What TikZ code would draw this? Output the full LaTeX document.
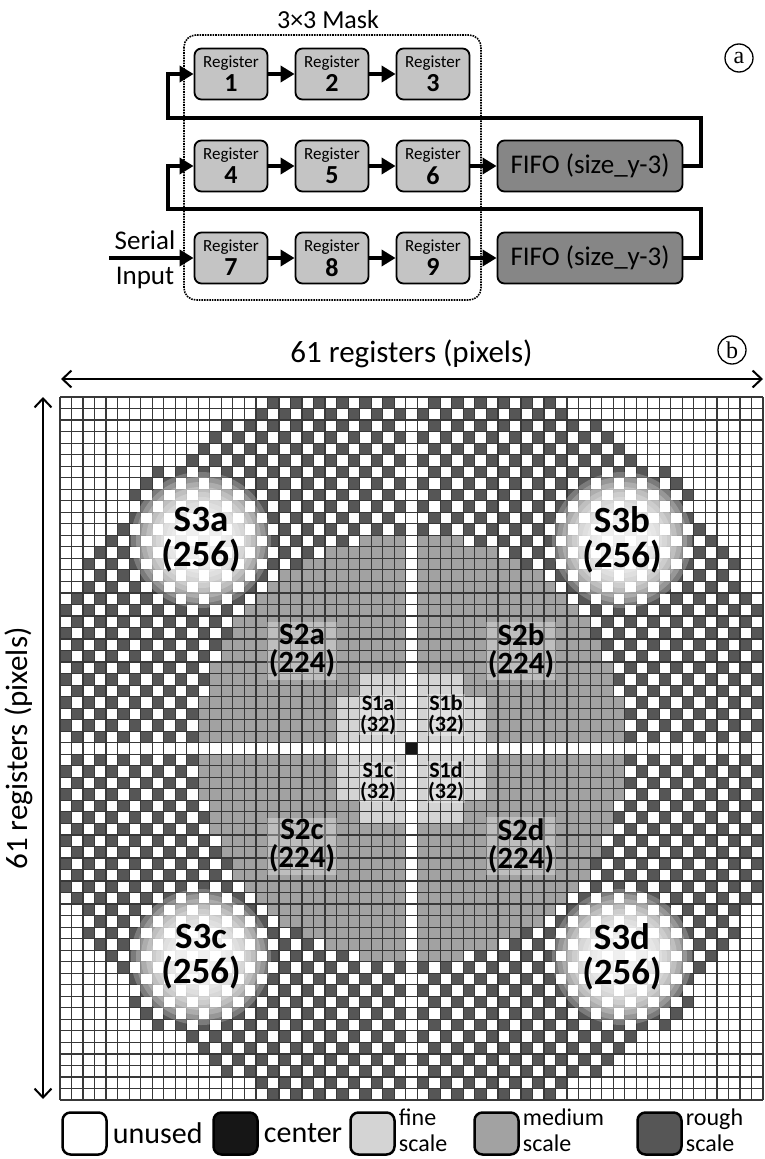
\documentclass[tikz,border=0pt]{standalone}
\usepackage{fontspec}
\setmainfont{Carlito}
\newfontfamily\circfont{Liberation Serif}
\usetikzlibrary{arrows.meta,positioning}
\definecolor{reggray}{HTML}{C4C4C4}
\definecolor{fifogray}{HTML}{868686}
\definecolor{finegray}{HTML}{D4D4D4}
\definecolor{medgray}{HTML}{A2A2A2}
\definecolor{roughgray}{HTML}{565656}
\definecolor{ctrgray}{HTML}{161616}
\newcommand{\regtext}[1]{Register\\[3pt]{\fontsize{26}{26}\selectfont\bfseries #1}}
\newcommand{\pickcell}[2]{%
  \edef\cdx{\the\numexpr\ifnum#1<30 30-#1\else #1-30\fi\relax}%
  \edef\cdy{\the\numexpr\ifnum#2<30 30-#2\else #2-30\fi\relax}%
  \edef\cdd{\the\numexpr\cdx*\cdx+\cdy*\cdy\relax}%
  \def\cc{}%
  \ifnum\cdd=0 \def\cc{ctrgray}\fi
  \ifnum\cdx>0 \ifnum\cdy>0
    \ifnum\cdd<1061 \ifodd\numexpr\cdx+\cdy+1\relax \def\cc{roughgray}\fi\fi
    \ifnum\cdd<347 \def\cc{medgray}\fi
    \ifnum\cdx<7 \ifnum\cdy<7 \def\cc{finegray}\ifnum\cdx>4 \ifnum\cdy>4 \def\cc{medgray}\fi\fi\fi\fi
  \fi\fi}
\begin{document}
\begin{tikzpicture}[x=1pt,y=-1pt,
  reg/.style={draw,line width=1.8pt,rounded corners=7pt,fill=reggray,minimum width=73pt,minimum height=51pt,inner sep=0pt,align=center,font=\fontsize{17}{17}\selectfont},
  fifo/.style={draw,line width=1.8pt,rounded corners=7pt,fill=fifogray,minimum width=185pt,minimum height=51pt,inner sep=0pt,font=\fontsize{27}{27}\selectfont},
  bus/.style={line width=4pt,-{Triangle[length=14pt,width=16pt]}},
  dim/.style={line width=2pt,{Straight Barb[length=9pt,width=17pt]}-{Straight Barb[length=9pt,width=17pt]}},
  tag/.style={circle,draw,line width=1.3pt,inner sep=0pt,minimum size=28pt,font=\circfont\fontsize{24}{24}\selectfont},
  cellline/.style={black!78,line width=1.2pt},
  key/.style={draw,line width=2.5pt,rounded corners=8pt,minimum width=44pt,minimum height=42pt,inner sep=0pt},
  keytext/.style={anchor=west,inner sep=0pt,align=left,font=\fontsize{24}{26}\selectfont},
  big/.style={align=center,font=\fontsize{37}{35}\selectfont\bfseries},
  mid/.style={align=center,fill=white,fill opacity=0.3,text opacity=1,inner sep=2pt,font=\fontsize{31}{28}\selectfont\bfseries},
  small/.style={align=center,fill=white,fill opacity=0.3,text opacity=1,inner sep=1pt,font=\fontsize{22}{21}\selectfont\bfseries}]
\useasboundingbox (0,0) rectangle (765,1159);
\draw[densely dotted,line width=1.6pt,rounded corners=12pt] (184,35) rectangle (481,300);
\node[font=\fontsize{26}{26}\selectfont] (mask) at (328,20) {3×3 Mask};
\node[reg] (1) at (231,74) {\regtext{1}};
\node[reg] (2) at (332,74) {\regtext{2}};
\node[reg] (3) at (433,74) {\regtext{3}};
\node[reg] (4) at (231,166) {\regtext{4}};
\node[reg] (5) at (332,166) {\regtext{5}};
\node[reg] (6) at (433,166) {\regtext{6}};
\node[reg] (7) at (231,258) {\regtext{7}};
\node[reg] (8) at (332,258) {\regtext{8}};
\node[reg] (9) at (433,258) {\regtext{9}};
\node[fifo] (f1) at (590,166) {FIFO (size\_y-3)};
\node[fifo] (f2) at (590,258) {FIFO (size\_y-3)};
\node[tag] (pa) at (739,58) {a};
\coordinate (t1) at (701,118);
\coordinate (b1) at (168,74);
\coordinate (t2) at (701,209);
\coordinate (b2) at (168,166);
\coordinate (in) at (109,258);
\node[font=\fontsize{27}{27}\selectfont] (ser) at (145,240) {Serial};
\node[font=\fontsize{27}{27}\selectfont] (inp) at (145,278) {Input};
\path[draw,bus](1) edge node {} (2);
\path[draw,bus](2) edge node {} (3);
\path[draw,bus](4) edge node {} (5);
\path[draw,bus](5) edge node {} (6);
\path[draw,bus](6) edge node {} (f1);
\path[draw,bus](7) edge node {} (8);
\path[draw,bus](8) edge node {} (9);
\path[draw,bus](9) edge node {} (f2);
\draw[bus] (f1.east) -| (t1) -| (b1) -- (1.west);
\draw[bus] (f2.east) -| (t2) -| (b2) -- (4.west);
\draw[bus] (in) -- (7.west);
\foreach \i in {0,...,60}{
  \foreach \j in {0,...,60}{
    \pickcell{\i}{\j}
    \ifx\cc\empty\else
      \fill[\cc] ({60+\i*11.5246},{397+\j*11.5246}) rectangle ++(11.5246,11.5246);
    \fi
  }
}
\foreach \k in {0,...,61}{
  \draw[cellline] ({60+\k*11.5246},397) -- ({60+\k*11.5246},1100);
  \draw[cellline] (60,{397+\k*11.5246}) -- (763,{397+\k*11.5246});
}
\foreach \p in {(201,540),(622,540),(201,957),(622,957)}{
  \foreach \r in {0,...,9}{
    \fill[white,opacity=0.22] \p ellipse ({25+5*\r} and {23+5*\r});
  }
}
\node[big] (s3a) at (201,540) {S3a\\(256)};
\node[big] (s3b) at (622,540) {S3b\\(256)};
\node[big] (s3c) at (201,957) {S3c\\(256)};
\node[big] (s3d) at (622,957) {S3d\\(256)};
\node[mid] (s2a) at (302,651) {S2a\\(224)};
\node[mid] (s2b) at (521,651) {S2b\\(224)};
\node[mid] (s2c) at (302,846) {S2c\\(224)};
\node[mid] (s2d) at (521,846) {S2d\\(224)};
\node[small] (s1a) at (378,715) {S1a\\(32)};
\node[small] (s1b) at (446,715) {S1b\\(32)};
\node[small] (s1c) at (378,782) {S1c\\(32)};
\node[small] (s1d) at (446,782) {S1d\\(32)};
\coordinate (hl) at (61,379);
\coordinate (hr) at (763,379);
\coordinate (vt) at (43,397);
\coordinate (vb) at (43,1099);
\draw[dim] (hl) -- (hr);
\draw[dim] (vt) -- (vb);
\node[font=\fontsize{31}{31}\selectfont] (htxt) at (411.5,354) {61 registers (pixels)};
\node[font=\fontsize{31}{31}\selectfont,rotate=90] (vtxt) at (19,748.5) {61 registers (pixels)};
\node[tag] (pb) at (732,350) {b};
\node[key,fill=white] (ku) at (84.5,1133.5) {};
\node[key,fill=ctrgray] (kc) at (235.5,1133.5) {};
\node[key,fill=finegray] (kf) at (372.5,1133.5) {};
\node[key,fill=medgray] (km) at (496.5,1133.5) {};
\node[key,fill=roughgray] (kr) at (659.5,1133.5) {};
\node[keytext,font=\fontsize{30}{30}\selectfont,right=5pt of ku] (tu) {unused};
\node[keytext,font=\fontsize{30}{30}\selectfont,right=5pt of kc] (tc) {center};
\node[keytext,right=3pt of kf,yshift=3.5pt] (tf) {fine\\scale};
\node[keytext,right=3pt of km,yshift=3.5pt] (tm) {medium\\scale};
\node[keytext,right=3pt of kr,yshift=3.5pt] (tr) {rough\\scale};
\end{tikzpicture}
\end{document}
